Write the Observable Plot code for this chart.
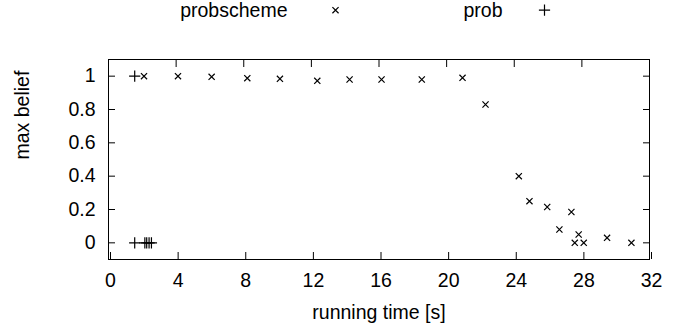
<!DOCTYPE html>
<html><head><meta charset="utf-8">
<script src="https://cdn.jsdelivr.net/npm/d3@7"></script>
<script src="https://cdn.jsdelivr.net/npm/@observablehq/plot@0.6"></script>
<style>body{margin:0;background:#fff}</style>
</head><body><div id="chart"></div>
<script>
const seriesNames = ["probscheme", "prob"];
const probschemeTime =   [2.10, 4.11, 6.10, 8.21, 10.14, 12.35, 14.26, 16.15, 18.53, 20.94, 22.30, 24.27, 24.90, 25.95, 27.38, 26.67, 27.81, 27.58, 28.11, 29.49, 30.93];
const probschemeBelief = [1.00, 1.00, 0.996, 0.988, 0.984, 0.972, 0.98, 0.98, 0.98, 0.99, 0.83, 0.40, 0.25, 0.215, 0.185, 0.08, 0.05, 0.0, 0.0, 0.03, 0.0];
const probTime =   [1.55, 1.55, 2.15, 2.26, 2.40, 2.54];
const probBelief = [1.0, 0.0, 0.0, 0.0, 0.0, 0.0];
const xTicks = [0, 4, 8, 12, 16, 20, 24, 28, 32];
const yTicks = [0, 0.2, 0.4, 0.6, 0.8, 1];
const xLabel = "running time [s]";
const yLabel = "max belief";

const schemeData = probschemeTime.map((t, i) => ({t, b: probschemeBelief[i]}));
const probData = probTime.map((t, i) => ({t, b: probBelief[i]}));
const font = "'Liberation Sans', Arial, Helvetica, sans-serif";
const timesR = 2.9, plusR = 3.7;

const chart = Plot.plot({
  width: 687, height: 330,
  marginLeft: 108, marginRight: 38, marginTop: 59, marginBottom: 71,
  style: {fontFamily: font, fontSize: "19.5px", color: "#000", background: "#fff"},
  x: {domain: [0, 32]},
  y: {domain: [-0.1, 1.1]},
  marks: [
    Plot.frame({stroke: "#000"}),
    Plot.axisX(xTicks, {anchor: "bottom", tickSize: -7, tickPadding: 21, dx: 2, label: null, tickFormat: d => String(d)}),
    Plot.axisX(xTicks, {anchor: "top", tickSize: -7, tickFormat: () => "", label: null}),
    Plot.axisY(yTicks, {anchor: "left", tickSize: -7, tickPadding: 20, label: null, tickFormat: d => String(d)}),
    Plot.axisY(yTicks, {anchor: "right", tickSize: -7, tickFormat: () => "", label: null}),
    Plot.dot(schemeData, {x: "t", y: "b", symbol: "times", r: timesR, stroke: "#000", strokeWidth: 1.2}),
    Plot.dot(probData, {x: "t", y: "b", symbol: "plus", r: plusR, stroke: "#000", strokeWidth: 1.2}),
    Plot.text([xLabel], {x: null, y: null, frameAnchor: "bottom", dy: 59, lineAnchor: "bottom", text: d => d}),
    Plot.text([yLabel], {x: null, y: null, frameAnchor: "left", rotate: -90, dx: -79.5, lineAnchor: "bottom", text: d => d}),
    Plot.text([seriesNames[0]], {x: null, y: null, frameAnchor: "top-left", textAnchor: "end", lineAnchor: "bottom", dx: 179, dy: -42.8, text: d => d}),
    Plot.dot([seriesNames[0]], {x: null, y: null, frameAnchor: "top-left", dx: 227, dy: -49.3, symbol: "times", r: timesR, stroke: "#000", strokeWidth: 1.2}),
    Plot.text([seriesNames[1]], {x: null, y: null, frameAnchor: "top-left", textAnchor: "end", lineAnchor: "bottom", dx: 394, dy: -42.8, text: d => d}),
    Plot.dot([seriesNames[1]], {x: null, y: null, frameAnchor: "top-left", dx: 436, dy: -49.3, symbol: "plus", r: plusR, stroke: "#000", strokeWidth: 1.2})
  ]
});
document.getElementById("chart").appendChild(chart);
</script>
</body></html>
